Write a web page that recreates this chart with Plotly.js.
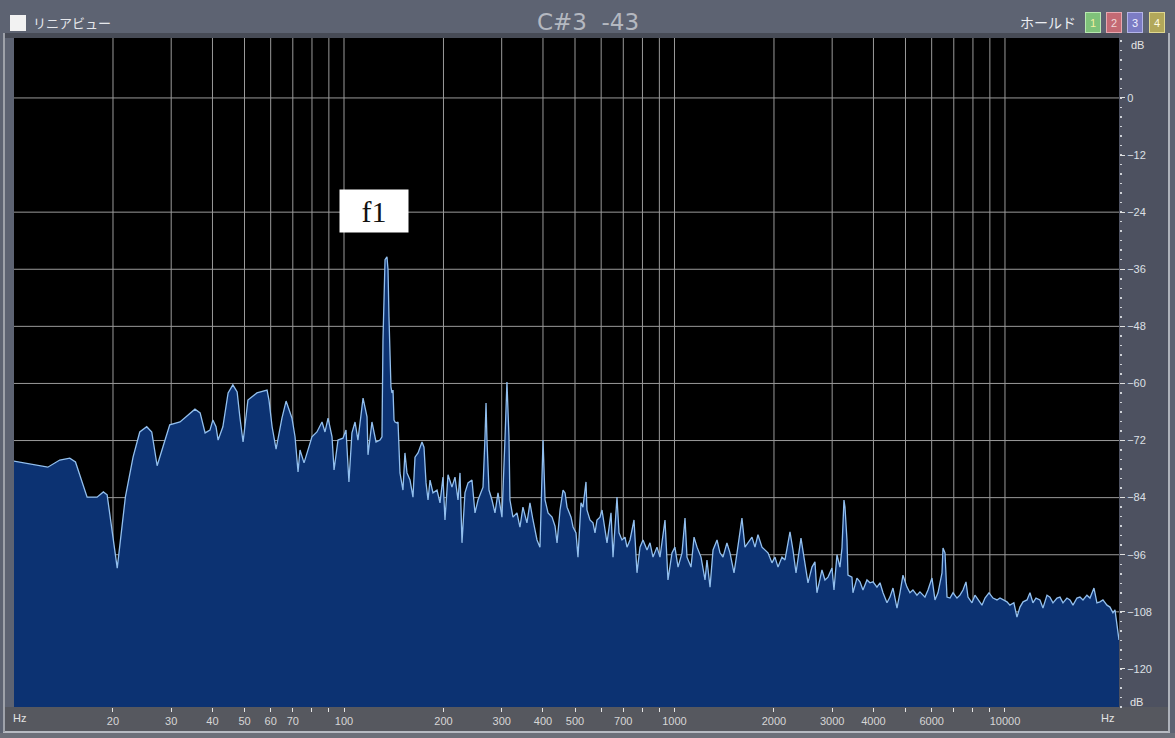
<!DOCTYPE html>
<html>
<head>
<meta charset="utf-8">
<script src="https://cdn.plot.ly/plotly-3.0.1.min.js"></script>
<style>
html,body{margin:0;padding:0;background:#5d6372;}
#chart{width:1175px;height:738px;}
</style>
</head>
<body>
<div id="chart"></div>
<script>
// ---- data ----
const freqHz = [
10.0,11.5,12.7,13.8,14.8,15.4,16.7,17.9,18.7,19.2,20.6,21.8,23.0,24.1,25.3,26.2,27.2,28.3,29.7,31.9,
35.4,36.7,38.0,39.3,40.1,41.0,41.6,43.0,44.6,46.1,47.5,48.4,49.5,51.2,54.5,58.5,59.3,60.6,62.3,64.9,
66.8,69.6,71.1,72.6,73.6,75.7,80.0,82.8,85.8,87.6,89.5,92.0,93.3,95.9,99.3,101.4,102.8,103.5,105.7,108.0,
110.2,114.2,117.4,118.2,121.5,125.0,128.5,130.3,131.2,133.1,134.9,135.9,136.8,138.7,139.7,140.7,141.7,142.7,144.7,145.7,
147.7,150.8,152.9,155.1,158.4,161.7,164.0,167.5,172.2,174.6,177.1,179.6,182.1,185.9,191.2,195.2,199.3,202.1,206.4,212.2,
216.7,221.3,224.4,227.5,232.3,237.3,243.9,249.1,254.4,261.5,263.4,267.1,269.0,270.8,274.6,280.4,286.3,292.4,300.6,306.9,
311.2,315.6,317.8,324.5,333.7,340.7,347.9,357.7,365.3,373.1,383.7,391.7,400.2,405.8,414.4,426.1,435.1,441.2,450.5,460.0,
466.5,473.0,486.4,493.2,503.5,510.5,521.3,528.6,539.8,543.5,555.0,566.7,574.7,582.8,595.1,603.5,616.2,624.9,642.6,651.6,
660.7,669.9,679.4,693.6,708.3,718.3,733.5,754.2,770.1,786.3,803.0,825.7,843.2,860.9,885.2,903.9,936.0,955.7,982.7,1003,
1025,1054,1076,1091,1122,1146,1170,1203,1237,1254,1281,1308,1345,1373,1402,1441,1472,1514,1546,1600,
1634,1669,1716,1752,1789,1840,1879,1918,1972,2014,2057,2115,2159,2236,2283,2332,2414,2466,2535,2606,
2661,2698,2794,2853,2914,2996,3038,3102,3167,3212,3257,3280,3326,3349,3443,3467,3565,3641,3718,3823,
3904,3987,4099,4186,4275,4395,4487,4583,4712,4811,4913,5052,5157,5266,5415,5530,5726,5848,6013,6140,
6271,6448,6493,6584,6677,6818,6962,7158,7308,7463,7621,7728,7946,8114,8285,8519,8699,8946,9199,9458,
9658,9861,10140,10350,10640,10870,11100,11340,11660,11900,12150,12410,12760,13030,13400,13680,13970,14370,14670,14980,
15400,15730,16060,16510,16860,17220,17700,18080,18590,18980,19380,19790,20350,20780,21220,21520,21820,22130
];
const levelDb = [
-76.3,-77.1,-77.6,-76.1,-75.7,-76.5,-83.9,-83.9,-82.8,-83.4,-98.8,-83.9,-75.5,-70.2,-69.1,-70.2,-77.3,-73.4,-68.7,-68.1,
-65.4,-66.2,-70.4,-69.8,-67.7,-69.1,-71.9,-69.1,-62.0,-60.3,-61.8,-67.0,-72.3,-63.5,-62.0,-61.4,-63.5,-69.1,-73.8,-67.3,
-63.7,-67.3,-71.2,-78.6,-74.0,-76.7,-71.2,-70.2,-68.1,-70.2,-67.3,-71.2,-78.2,-71.9,-71.5,-69.8,-78.2,-80.7,-70.4,-68.1,
-71.9,-63.1,-67.0,-75.0,-68.1,-72.3,-71.9,-71.2,-50.9,-34.0,-33.4,-36.1,-46.0,-60.7,-62.0,-61.4,-67.7,-68.1,-68.3,-68.1,
-78.8,-82.4,-74.6,-78.8,-80.3,-83.9,-75.5,-74.6,-72.3,-73.4,-80.9,-84.5,-80.3,-83.0,-82.4,-85.1,-79.7,-88.7,-79.2,-81.8,
-79.7,-84.5,-78.8,-93.5,-83.0,-80.9,-80.3,-87.2,-84.5,-82.4,-81.8,-71.2,-64.1,-71.9,-82.4,-84.5,-87.2,-83.0,-88.1,-71.9,
-59.7,-71.2,-84.5,-88.1,-87.2,-90.2,-86.0,-89.3,-85.1,-88.7,-92.9,-94.4,-71.9,-84.5,-87.2,-88.1,-90.0,-93.5,-86.6,-82.4,
-83.0,-86.0,-88.1,-90.2,-91.4,-96.5,-85.1,-86.0,-80.7,-86.6,-88.7,-89.3,-91.4,-88.7,-88.1,-86.6,-90.8,-93.5,-87.2,-96.5,
-90.2,-83.9,-91.4,-92.9,-92.3,-94.4,-92.9,-88.7,-99.8,-94.4,-92.9,-95.0,-93.5,-96.5,-94.4,-96.5,-88.7,-101.3,-95.6,-94.4,
-98.6,-95.6,-88.3,-96.5,-98.6,-92.3,-94.4,-96.5,-101.3,-97.1,-102.8,-95.0,-92.9,-95.6,-96.5,-93.5,-95.6,-99.8,-95.6,-88.3,
-94.4,-93.5,-92.3,-94.4,-91.8,-94.4,-95.0,-95.6,-97.7,-96.5,-98.6,-96.5,-97.1,-91.2,-95.0,-99.8,-92.5,-96.5,-101.9,-98.6,
-97.5,-104.0,-99.2,-101.3,-100.7,-98.8,-103.4,-96.0,-98.6,-94.6,-84.5,-86.0,-92.9,-100.3,-100.7,-104.0,-100.9,-101.7,-103.4,-101.3,
-101.9,-101.7,-102.8,-101.9,-104.0,-106.1,-104.9,-103.0,-107.2,-104.0,-100.3,-102.8,-104.0,-103.4,-104.5,-103.8,-104.9,-103.4,-100.9,-105.5,
-104.0,-99.8,-94.6,-95.6,-104.9,-105.1,-104.0,-105.1,-104.5,-103.4,-101.7,-104.9,-106.1,-104.5,-105.5,-106.6,-105.1,-104.0,-105.1,-105.5,
-105.1,-105.5,-105.9,-106.6,-106.1,-109.1,-107.0,-105.9,-105.5,-104.0,-106.1,-105.1,-105.5,-107.2,-104.5,-104.9,-106.1,-105.1,-104.9,-106.1,
-105.1,-105.5,-106.6,-105.1,-104.9,-105.5,-104.5,-105.1,-103.0,-106.1,-105.9,-105.5,-106.6,-107.0,-108.2,-107.6,-111.2,-113.9
];
const xTickVals = [20,30,40,50,60,70,80,90,100,200,300,400,500,600,700,800,900,1000,2000,3000,4000,5000,6000,7000,8000,9000,10000];
const xTickText = ['20','30','40','50','60','70','','','100','200','300','400','500','','700','','','1000','2000','3000','4000','','6000','','','','10000'];
const yLabelVals = [0,-12,-24,-36,-48,-60,-72,-84,-96,-108,-120];
const yLabelText = ['0','\u221212','\u221224','\u221236','\u221248','\u221260','\u221272','\u221284','\u221296','\u2212108','\u2212120'];
const yGridVals = [0,-24,-36,-48,-60,-72,-84,-96,-108,-120];   // no grid line at −12 dB in the reference
const titleText = 'C#3  -43';
const noteLabel = 'f1';
const dbRange = [-128.0, 12.6];
const logFreqRange = [1.0015, 4.345];

// ---- layout helpers (pixel -> paper) ----
const L = 14, R = 56, T = 38, B = 31, W = 1175, H = 738;
const PW = W - L - R, PH = H - T - B;
const px = X => (X - L) / PW;
const py = Y => (H - B - Y) / PH;

const gridCol = '#9a9a9a';

// grid drawn as a trace underneath the spectrum so the fill covers it
const gridX = [], gridY = [];
xTickVals.forEach(v => { gridX.push(v, v, null); gridY.push(dbRange[0], dbRange[1], null); });
yGridVals.forEach(v => { gridX.push(Math.pow(10, logFreqRange[0]), Math.pow(10, logFreqRange[1]), null); gridY.push(v, v, null); });

const traces = [
  { x: gridX, y: gridY, mode: 'lines', line: { color: gridCol, width: 1 }, hoverinfo: 'skip', showlegend: false },
  { x: [freqHz[0], freqHz[freqHz.length - 1]], y: [dbRange[0], dbRange[0]],
    mode: 'lines', line: { width: 0 }, hoverinfo: 'skip', showlegend: false },
  { x: freqHz, y: levelDb, mode: 'lines', fill: 'tonexty', fillcolor: 'rgb(12,50,114)',
    line: { color: '#92bfee', width: 1.3 }, showlegend: false }
];

const btn = (X, t, bg, bd, fc) => ({
  x: px(X), y: py(22), xref: 'paper', yref: 'paper', xanchor: 'center', yanchor: 'middle',
  text: t, showarrow: false,
  width: 14, height: 19, bgcolor: bg, bordercolor: bd, borderwidth: 1, borderpad: 0,
  font: { family: 'Liberation Sans', size: 11, color: fc }
});

const band = (x0, x1, y0, y1, c) => ({ type: 'rect', xref: 'paper', yref: 'paper', layer: 'below',
  x0: px(x0), x1: px(x1), y0: py(y1), y1: py(y0), fillcolor: c, line: { width: 0 } });
const rule = (x0, x1, y0, y1, c) => ({ type: 'line', xref: 'paper', yref: 'paper', layer: 'below',
  x0: px(x0), x1: px(x1), y0: py(y0), y1: py(y1), line: { color: c, width: 2 } });

const layout = {
  width: W, height: H,
  margin: { l: L, r: R, t: T, b: B, pad: 0 },
  paper_bgcolor: '#5d6372', plot_bgcolor: '#000000',
  title: { text: titleText, x: 588 / W, xref: 'container', xanchor: 'center',
           y: 1 - 22 / H, yref: 'container', yanchor: 'middle',
           font: { family: 'DejaVu Sans', size: 23, color: '#b4b8c0' } },
  xaxis: { type: 'log', range: logFreqRange, tickmode: 'array', tickvals: xTickVals, ticktext: xTickText,
           showgrid: false, zeroline: false, showline: false,
           ticks: 'outside', ticklen: 4, tickcolor: '#e6e6e6', tickwidth: 1,
           tickfont: { family: 'Liberation Sans', size: 11, color: '#d6d6d6' } },
  yaxis: { range: dbRange, side: 'right', tickmode: 'array', tickvals: yLabelVals, ticktext: yLabelText,
           showgrid: false, zeroline: false, showline: false,
           ticks: 'outside', ticklen: 5, tickcolor: '#e0e0e0', tickwidth: 1,
           tickfont: { family: 'Liberation Sans', size: 11, color: '#dde0e6' },
           minor: { tickmode: 'linear', tick0: 0, dtick: 2, ticks: 'outside', ticklen: 2,
                    tickcolor: '#cfd2d8', tickwidth: 1.5, showgrid: false } },
  shapes: [
    band(4, 1168, 33, 38, '#474b56'),
    band(1119, 1168, 33, 707, '#4d5160'),
    band(4, 1168, 707, 731, '#56585f'),
    band(0, 1175, 733, 738, '#6b6f79'),
    rule(3, 1170, 732, 732, '#b6bac2'),
    rule(4, 4, 732, 33, '#9ea2aa'),
    rule(1169, 1169, 732, 33, '#aeb2ba'),
    band(10, 26, 15, 31, '#f2f2f2')
  ],
  annotations: [
    { x: px(31), y: py(23), xref: 'paper', yref: 'paper', xanchor: 'left', yanchor: 'middle', showarrow: false,
      text: 'リニアビュー', font: { family: 'Noto Sans CJK JP', size: 13, color: '#e6e8ec' } },
    { x: px(1078), y: py(22), xref: 'paper', yref: 'paper', xanchor: 'right', yanchor: 'middle', showarrow: false,
      text: 'ホールド', font: { family: 'Noto Sans CJK JP', size: 14, color: '#eceef2' } },
    btn(1093, '1', '#7fc27a', '#b8e8b0', '#f4f0a0'),
    btn(1114, '2', '#c46a74', '#e8a8b0', '#f0d8d8'),
    btn(1135, '3', '#7c7cc4', '#b4b4e8', '#f0f0ff'),
    btn(1157, '4', '#b2a85a', '#e0d890', '#fffbe0'),
    { x: px(374), y: py(211), xref: 'paper', yref: 'paper', xanchor: 'center', yanchor: 'middle', showarrow: false,
      text: noteLabel, width: 68, height: 42, bgcolor: '#ffffff', borderpad: 0,
      font: { family: 'Liberation Serif', size: 30, color: '#111111' } },
    { x: px(19), y: py(718), xref: 'paper', yref: 'paper', xanchor: 'center', yanchor: 'middle', showarrow: false,
      text: 'Hz', font: { family: 'Liberation Sans', size: 11, color: '#e4e4e4' } },
    { x: px(1107), y: py(718), xref: 'paper', yref: 'paper', xanchor: 'center', yanchor: 'middle', showarrow: false,
      text: 'Hz', font: { family: 'Liberation Sans', size: 11, color: '#e4e4e4' } },
    { x: px(1137), y: py(45), xref: 'paper', yref: 'paper', xanchor: 'center', yanchor: 'middle', showarrow: false,
      text: 'dB', font: { family: 'Liberation Sans', size: 11, color: '#e4e4e4' } },
    { x: px(1136), y: py(702), xref: 'paper', yref: 'paper', xanchor: 'center', yanchor: 'middle', showarrow: false,
      text: 'dB', font: { family: 'Liberation Sans', size: 11, color: '#e4e4e4' } }
  ]
};

Plotly.newPlot('chart', traces, layout, { displayModeBar: false, staticPlot: true });
</script>
</body>
</html>
